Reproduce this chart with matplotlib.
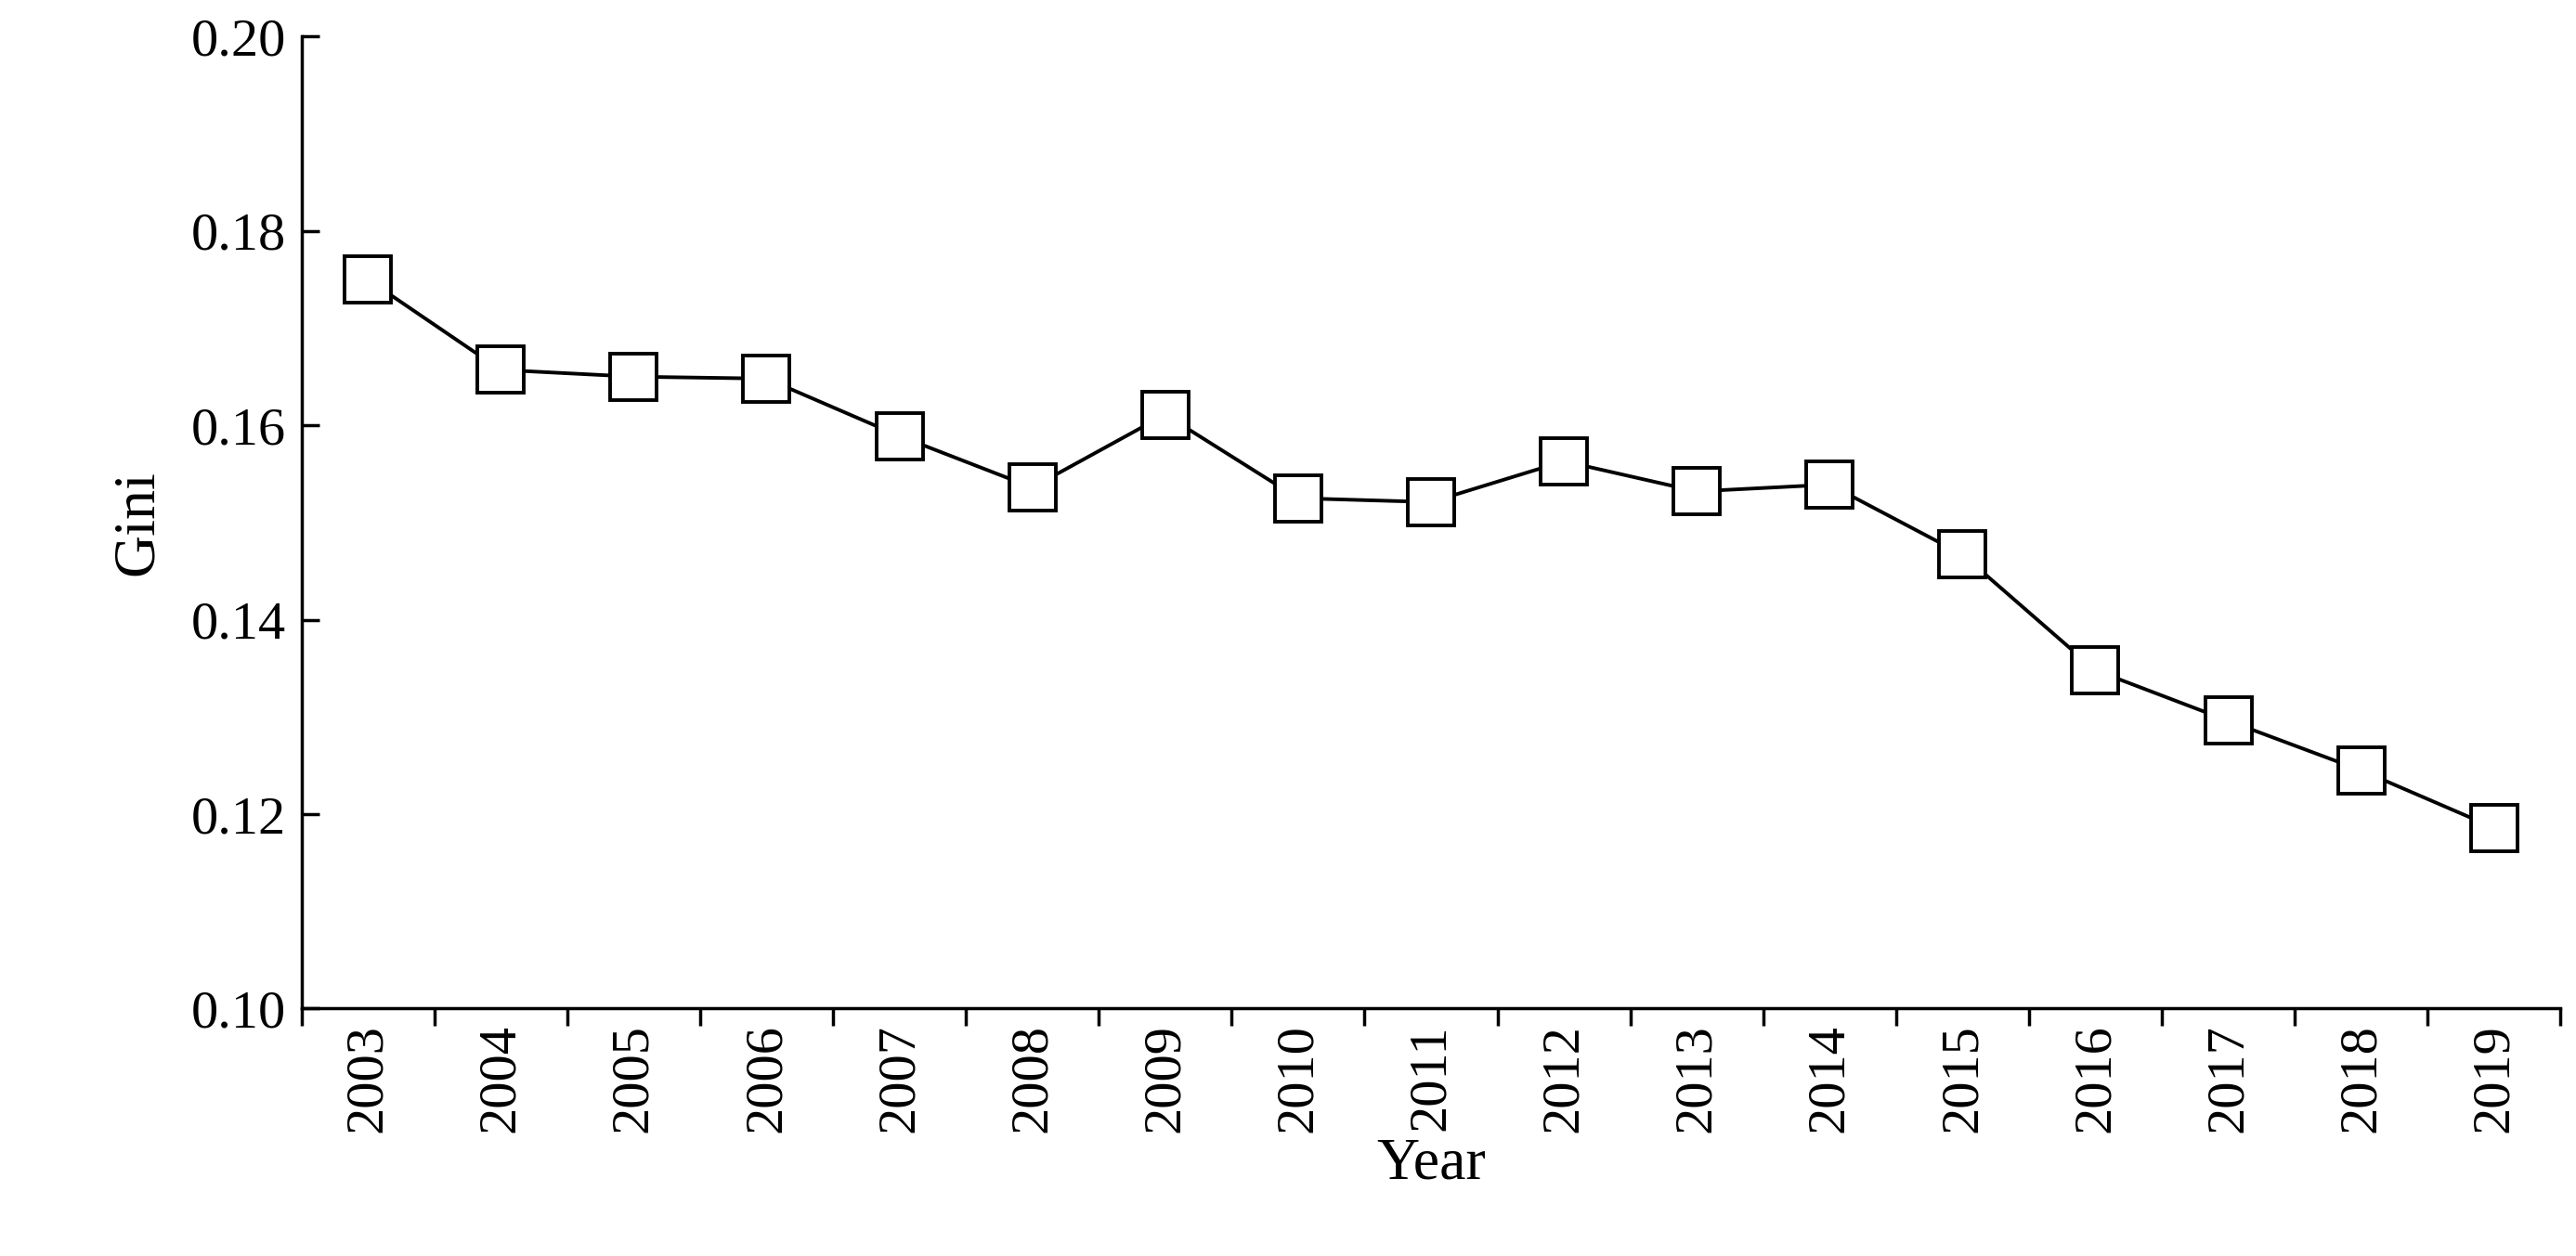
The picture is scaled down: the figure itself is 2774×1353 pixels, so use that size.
import matplotlib
matplotlib.use("Agg")
import matplotlib.pyplot as plt
import numpy as np

years = ["2003","2004","2005","2006","2007","2008","2009","2010","2011","2012","2013","2014","2015","2016","2017","2018","2019"]
gini = [0.1750,0.1657,0.1650,0.1648,0.1589,0.1536,0.1611,0.1525,0.1521,0.1563,0.1532,0.1539,0.1467,0.1348,0.1296,0.1245,0.1186]

plt.rcParams['font.family'] = ['Liberation Serif', 'DejaVu Serif']
fig = plt.figure(figsize=(27.74, 13.53), dpi=100)
ax = fig.add_axes([0.117, 0.197, 0.877, 0.774])
x = np.arange(len(years))
ax.plot(x, gini, color='black', lw=2.8, marker='s', ms=36, mfc='white', mec='black', mew=2.8, zorder=3)
ax.set_xlim(-0.5, len(years)-0.5)
ax.set_ylim(0.10, 0.20)
ax.set_yticks([0.10,0.12,0.14,0.16,0.18,0.20])
ax.set_yticklabels([f"{v:.2f}" for v in [0.10,0.12,0.14,0.16,0.18,0.20]])
ax.set_xticks(x)
ax.set_xticklabels(years, rotation=90)
ax.set_xticks(np.arange(-0.5, len(years)), minor=True)
ax.tick_params(axis='x', which='major', length=0, labelsize=42, pad=12)
ax.tick_params(axis='x', which='minor', length=14, width=2.5, direction='out')
ax.tick_params(axis='y', length=14, width=2.5, direction='in', labelsize=42, pad=12)
for s in ['top','right']:
    ax.spines[s].set_visible(False)
for s in ['left','bottom']:
    ax.spines[s].set_linewidth(2.5)
ax.set_xlabel("Year", fontsize=46, labelpad=4)
ax.set_ylabel("Gini", fontsize=46, labelpad=20)
fig.savefig("out.png", dpi=100)
